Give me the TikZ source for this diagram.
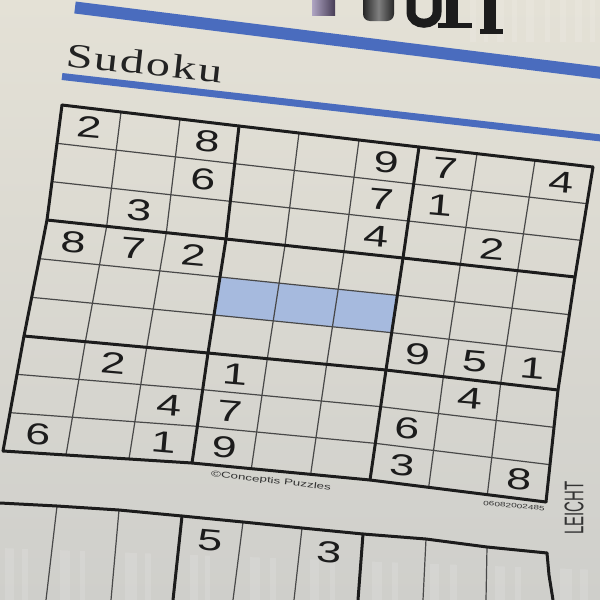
\documentclass[tikz,border=0pt]{standalone}
\usepackage{fontspec}
\usepackage{graphicx}
\setmainfont{Liberation Sans}
\newfontfamily\titlefont[LetterSpace=4]{Liberation Serif}
\usetikzlibrary{calc}
\definecolor{paperA}{RGB}{228,225,214}
\definecolor{paperB}{RGB}{207,207,203}
\definecolor{bandblue}{RGB}{74,108,190}
\definecolor{hiblue}{RGB}{166,186,222}
\definecolor{ink}{RGB}{28,28,28}
\definecolor{thinink}{RGB}{72,72,72}
\definecolor{titlegray}{RGB}{35,35,35}
\definecolor{lav}{RGB}{175,165,195}
\definecolor{lavdark}{RGB}{70,60,85}
\tikzset{
  thinline/.style={draw=thinink, line width=1.2pt, line join=round},
  thickline/.style={draw=ink, line width=3pt, line cap=round, line join=round},
  digit/.style={text=ink, font=\fontsize{30}{30}\selectfont, inner sep=0pt, rotate=-5},
  smalltext/.style={text=ink!90, inner sep=0pt},
  streak/.style={fill=white, opacity=0.12},
}
\begin{document}
\begin{tikzpicture}[x=1pt,y=-1pt]
\useasboundingbox (0,0) rectangle (600,600);
\shade[top color=paperA, bottom color=paperB] (0,0) rectangle (600,600);

% streaks top right
\foreach \sx/\sw in {470/6,484/4,497/7,512/5,526/8,545/5,560/6,575/7,590/5}{
  \fill[streak] (\sx,0) rectangle ++(\sw,42);
}
% headline fragments
\shade[left color=lav, right color=lavdark] (312,0) rectangle (335,15);
\shade[rounded corners=7pt, left color=black!85, right color=black!85, middle color=black!50] (363,-10) rectangle (394,21);
\draw[ink, line width=9pt] (411,-2) -- (411,12) .. controls (411,27) and (437,27) .. (437,12) -- (437,-2);
\fill[ink] (446,0) rectangle (458,26);
\fill[ink] (438,23) rectangle (472,28);
\fill[ink] (484,0) rectangle (496,32);
\fill[ink] (480,29) rectangle (503,34);

% blue bands
\draw[bandblue, line width=12pt] (75,7.5) -- (610,74);
\draw[bandblue, line width=7pt] (62,76.5) -- (610,139);

% title
\node[anchor=base west, rotate=-6.2, text=titlegray, inner sep=0pt] (title) at (65,66)
  {\titlefont\fontsize{34}{34}\selectfont\scalebox{1.42}[1]{Sudoku}};

% lattice of thick-line crossings
\coordinate (L-0-0) at (62,105);  \coordinate (L-1-0) at (239,126);
\coordinate (L-2-0) at (419,147); \coordinate (L-3-0) at (593,167);
\coordinate (L-0-1) at (47,220);  \coordinate (L-1-1) at (226,239);
\coordinate (L-2-1) at (403,258); \coordinate (L-3-1) at (575,277);
\coordinate (L-0-2) at (24,336);  \coordinate (L-1-2) at (208,353);
\coordinate (L-2-2) at (386,370); \coordinate (L-3-2) at (558,390);
\coordinate (L-0-3) at (3,451);   \coordinate (L-1-3) at (192,463);
\coordinate (L-2-3) at (370,480); \coordinate (L-3-3) at (546,502);

\foreach \i in {0,...,9}{
 \foreach \j in {0,...,9}{
  \pgfmathtruncatemacro\I{min(int(\i/3),2)}
  \pgfmathtruncatemacro\J{min(int(\j/3),2)}
  \pgfmathtruncatemacro\Ip{\I+1}
  \pgfmathtruncatemacro\Jp{\J+1}
  \pgfmathsetmacro\a{(\i-3*\I)/3}
  \pgfmathsetmacro\b{(\j-3*\J)/3}
  \coordinate (g-\i-\j) at ($($(L-\I-\J)!\a!(L-\Ip-\J)$)!\b!($(L-\I-\Jp)!\a!(L-\Ip-\Jp)$)$);
 }}

% highlighted cells
\fill[hiblue] (g-3-4) -- (g-4-4) -- (g-5-4) -- (g-6-4) -- (g-6-5) -- (g-5-5) -- (g-4-5) -- (g-3-5) -- cycle;

% thin grid lines
\foreach \j in {1,2,4,5,7,8}{
  \draw[thinline] (g-0-\j) \foreach \i in {1,...,9}{ -- (g-\i-\j) };
}
\foreach \i in {1,2,4,5,7,8}{
  \draw[thinline] (g-\i-0) \foreach \j in {1,...,9}{ -- (g-\i-\j) };
}
% thick grid lines
\foreach \j in {0,3,6,9}{
  \draw[thickline] (g-0-\j) \foreach \i in {1,...,9}{ -- (g-\i-\j) };
}
\foreach \i in {0,3,6,9}{
  \draw[thickline] (g-\i-0) \foreach \j in {1,...,9}{ -- (g-\i-\j) };
}

% digits (column/row/digit)
\foreach \c/\r/\d in {1/1/2,3/1/8,6/1/9,7/1/7,9/1/4,
                      3/2/6,6/2/7,7/2/1,
                      2/3/3,6/3/4,8/3/2,
                      1/4/8,2/4/7,3/4/2,
                      7/6/9,8/6/5,9/6/1,
                      2/7/2,4/7/1,8/7/4,
                      3/8/4,4/8/7,7/8/6,
                      1/9/6,3/9/1,4/9/9,7/9/3,9/9/8}{
  \pgfmathtruncatemacro\ci{\c-1}
  \pgfmathtruncatemacro\rj{\r-1}
  \node[digit] (d-\c-\r) at ($(g-\ci-\rj)!0.5!(g-\c-\r)$) {\scalebox{1.5}[1]{\d}};
}

% small texts
\node[smalltext, rotate=-6.5] (copy) at (271,481)
  {\fontsize{8.4}{8.4}\selectfont\scalebox{1.6}[1]{©Conceptis Puzzles}};
\node[smalltext, rotate=-5] (serial) at (514,506)
  {\fontsize{6.3}{6.3}\selectfont\scalebox{1.6}[1]{06082002485}};
\node[smalltext, rotate=90] (leicht) at (574,508)
  {\fontsize{15}{15}\selectfont\scalebox{1}[1.8]{LEICHT}};

% second puzzle (partly visible)
\coordinate (t-0) at (0,503);   \coordinate (t-1) at (57,506);
\coordinate (t-2) at (119,510); \coordinate (t-3) at (182,516);
\coordinate (t-4) at (243,522); \coordinate (t-5) at (302,528);
\coordinate (t-6) at (363,534); \coordinate (t-7) at (426,539);
\coordinate (t-8) at (487,547); \coordinate (t-9) at (547,553);
\coordinate (b-1) at (46,600);  \coordinate (b-2) at (111,600);
\coordinate (b-3) at (173,600); \coordinate (b-4) at (233,600);
\coordinate (b-5) at (294,600); \coordinate (b-6) at (358,600);
\coordinate (b-7) at (423,600); \coordinate (b-8) at (486,600);
\coordinate (b-9) at (553,600); \coordinate (m-9) at (549,575);

% streaks in lower part
\begin{scope}
\clip (0,548) -- (600,570) -- (600,600) -- (0,600) -- cycle;
\foreach \sx/\sw in {5/9,22/6,60/10,80/5,125/12,145/6,190/8,205/5,250/10,270/6,
                     310/9,330/5,372/10,392/6,430/9,450/7,495/10,515/6,560/12,580/8}{
  \fill[streak] (\sx,540) rectangle ++(\sw,60);
}
\end{scope}

\foreach \k in {1,2,4,5,7,8}{
  \draw[thinline] (t-\k) -- (b-\k);
}
\draw[thickline] (t-3) -- (b-3);
\draw[thickline] (t-6) -- (b-6);
\draw[thickline] (t-9) -- (m-9) -- (b-9);
\draw[thickline] (t-0) \foreach \k in {1,...,9}{ -- (t-\k) };

\node[digit] (e-4-1) at (210,540) {\scalebox{1.5}[1]{5}};
\node[digit] (e-5-1) at (329,552) {\scalebox{1.5}[1]{3}};
\end{tikzpicture}
\end{document}
